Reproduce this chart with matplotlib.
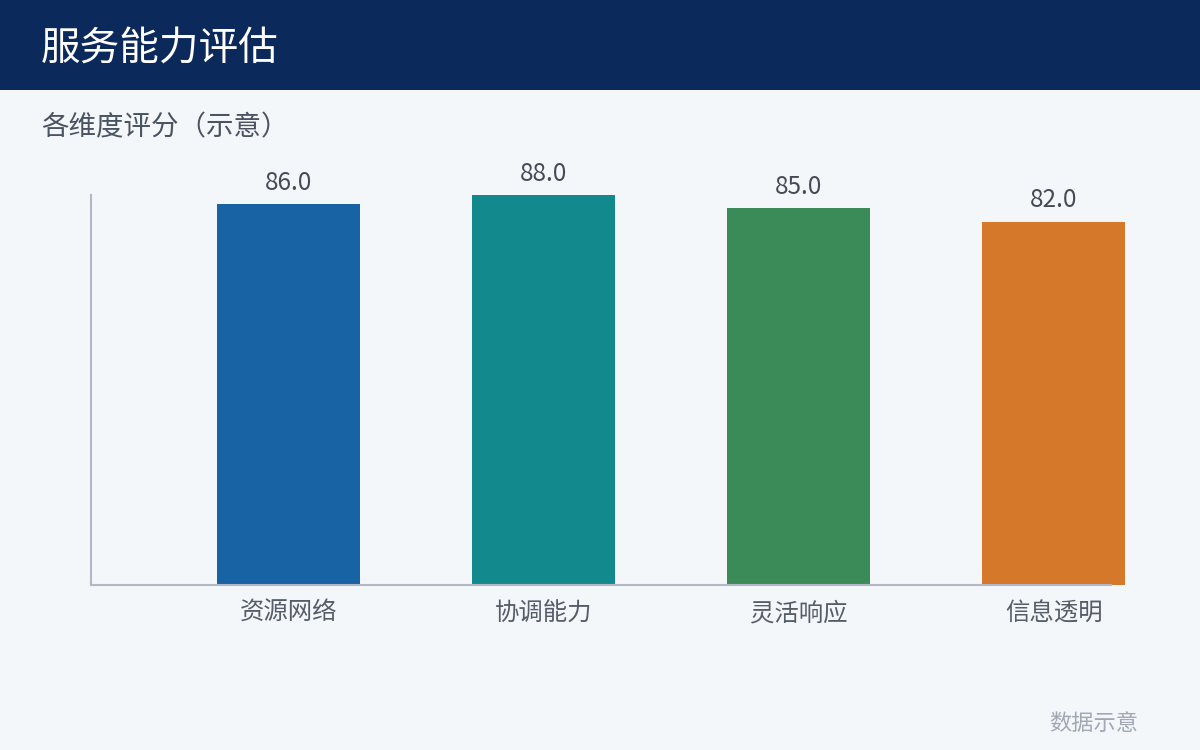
import matplotlib.pyplot as plt
from matplotlib.patches import Rectangle

plt.rcParams['font.family'] = ['Noto Sans CJK SC', 'DejaVu Sans']

categories = ['资源网络', '协调能力', '灵活响应', '信息透明']
scores = [86.0, 88.0, 85.0, 82.0]
bar_colors = ['#1763a3', '#128a8d', '#3b8b59', '#d67829']

title = '服务能力评估'
subtitle = '各维度评分（示意）'
footnote = '数据示意'

bg = '#f4f7fa'
fig = plt.figure(figsize=(12, 7.5), dpi=100, facecolor=bg)

# header band
fig.patches.append(Rectangle((0, 1 - 90 / 750), 1, 90 / 750, transform=fig.transFigure,
                             facecolor='#0c295b', edgecolor='none', zorder=0))
fig.text(41 / 1200, 1 - 50 / 750, title, color='white', fontsize=28.5,
         va='center', ha='left')
fig.text(41 / 1200, 1 - 128 / 750, subtitle, color='#4a5361', fontsize=19.8,
         va='center', ha='left')
fig.text(1138 / 1200, 1 - 723 / 750, footnote, color='#a0a8b3', fontsize=16,
         va='center', ha='right')

ax = fig.add_axes([91 / 1200, 165 / 750, 1020 / 1200, 390 / 750])
ax.set_facecolor(bg)
x = range(len(categories))
bars = ax.bar(x, scores, width=0.56, color=bar_colors, zorder=2, clip_on=False)
ax.set_xlim(-0.775, 3.225)
ax.set_ylim(0, max(scores))

for rect, v in zip(bars, scores):
    ax.annotate(f'{v:.1f}', (rect.get_x() + rect.get_width() / 2, v),
                xytext=(0, 6), textcoords='offset points', ha='center', va='bottom',
                fontsize=17.5, color='#444b55', annotation_clip=False)

ax.set_xticks(list(x))
ax.set_xticklabels(categories, fontsize=17.6, color='#555d68')
ax.tick_params(axis='x', length=0, pad=11)
ax.set_yticks([])
for side in ['top', 'right']:
    ax.spines[side].set_visible(False)
for side in ['left', 'bottom']:
    ax.spines[side].set_color('#b0b9c5')
    ax.spines[side].set_linewidth(1.5)

fig.savefig('out.png', dpi=100, facecolor=bg)
